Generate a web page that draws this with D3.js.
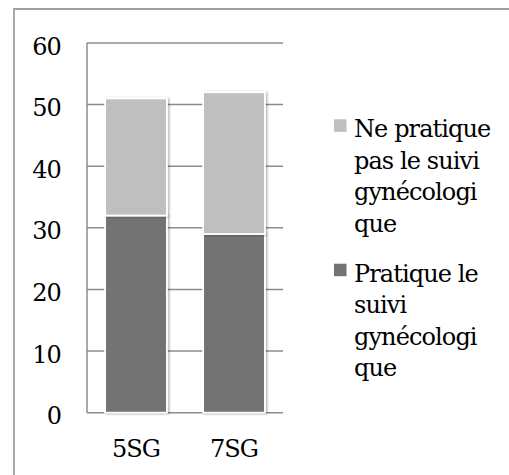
<!DOCTYPE html>
<html>
<head>
<meta charset="utf-8">
<script src="https://cdn.jsdelivr.net/npm/d3@7"></script>
<style>
  body { margin: 0; background: #fff; }
</style>
</head>
<body>
<script>
// ---------------- data ----------------
var categories = ["5SG", "7SG"];
var pratique = [32, 29];      // dark, bottom
var nePratique = [19, 23];    // light, top
var yTicks = [0, 10, 20, 30, 40, 50, 60];
var seriesNames = ["Pratique le suivi gynécologique", "Ne pratique pas le suivi gynécologique"];
var legendLines = [
  ["Ne pratique", "pas le suivi", "gynécologi", "que"],
  ["Pratique le", "suivi", "gynécologi", "que"]
];
var colors = ["#737373", "#bfbfbf"];

var FONT = "'DejaVu Serif', serif";
var FSIZE = "24px";
var LSP = "-0.9px";

// ---------------- svg ----------------
var svg = d3.select("body")
     .append("svg")
     .attr("width", 509)
     .attr("height", 475);

var defs = svg.append("defs");
var f = defs.append("filter").attr("id", "shadow")
     .attr("x", "-20%").attr("y", "-20%").attr("width", "140%").attr("height", "140%");
f.append("feDropShadow")
     .attr("dx", 1.5).attr("dy", 0.5)
     .attr("stdDeviation", 1.2)
     .attr("flood-color", "#000")
     .attr("flood-opacity", 0.3);

// outer frame (only left and top are visible)
svg.append("path")
     .attr("d", "M14,475 V9 H509")
     .attr("fill", "none")
     .attr("stroke", "#a0a0a0")
     .attr("stroke-width", 1.8);

var x = d3.scaleBand()
     .domain(categories)
     .range([87, 283])
     .paddingInner(0.37)
     .paddingOuter(0.185);

var y = d3.scaleLinear()
     .domain([0, 60])
     .range([412.7, 43]);

// gridlines
svg.append("g").selectAll("line")
     .data(yTicks)
     .enter()
     .append("line")
     .attr("x1", 87)
     .attr("x2", 283)
     .attr("y1", d => y(d))
     .attr("y2", d => y(d))
     .attr("stroke", "#8c8c8c")
     .attr("stroke-width", 1.5);

// y axis line
svg.append("line")
     .attr("x1", 87).attr("x2", 87)
     .attr("y1", y(60)).attr("y2", y(0))
     .attr("stroke", "#8c8c8c")
     .attr("stroke-width", 1.5);

// y tick labels
svg.append("g").selectAll("text")
     .data(yTicks)
     .enter()
     .append("text")
     .text(d => d)
     .attr("x", 61)
     .attr("y", d => y(d) + 11.5)
     .attr("text-anchor", "end")
     .style("font-family", FONT)
     .style("font-size", FSIZE)
     .style("letter-spacing", LSP);

// stacked bars
var table = categories.map((c, i) => ({cat: c, pratique: pratique[i], nePratique: nePratique[i]}));
var stack = d3.stack().keys(["pratique", "nePratique"])(table);

svg.append("g").selectAll("g")
     .data(stack)
     .enter()
     .append("g")
     .attr("fill", (d, i) => colors[i])
     .selectAll("rect")
     .data(d => d)
     .enter()
     .append("rect")
     .attr("x", d => x(d.data.cat))
     .attr("y", d => y(d[1]))
     .attr("width", x.bandwidth())
     .attr("height", d => y(d[0]) - y(d[1]))
     .attr("stroke", "#fff")
     .attr("stroke-width", 1.8)
     .attr("filter", "url(#shadow)");

// category labels
svg.append("g").selectAll("text")
     .data(categories)
     .enter()
     .append("text")
     .text(d => d)
     .attr("x", d => x(d) + x.bandwidth() / 2)
     .attr("y", 457)
     .attr("text-anchor", "middle")
     .style("font-family", FONT)
     .style("font-size", FSIZE)
     .style("letter-spacing", LSP);

// legend (top series first)
var legendY = [137.3, 281.7];
var legendColors = [colors[1], colors[0]];
var leg = svg.append("g").selectAll("g")
     .data(legendLines)
     .enter()
     .append("g");

leg.append("rect")
     .attr("x", 334)
     .attr("y", (d, i) => legendY[i] - 18)
     .attr("width", 12.5)
     .attr("height", 12.5)
     .attr("fill", (d, i) => legendColors[i]);

leg.append("text")
     .attr("y", (d, i) => legendY[i])
     .style("font-family", FONT)
     .style("font-size", FSIZE)
     .style("letter-spacing", LSP)
     .selectAll("tspan")
     .data(d => d)
     .enter()
     .append("tspan")
     .attr("x", 354)
     .attr("dy", (d, i) => i === 0 ? 0 : 31.5)
     .text(d => d);
</script>
</body>
</html>
